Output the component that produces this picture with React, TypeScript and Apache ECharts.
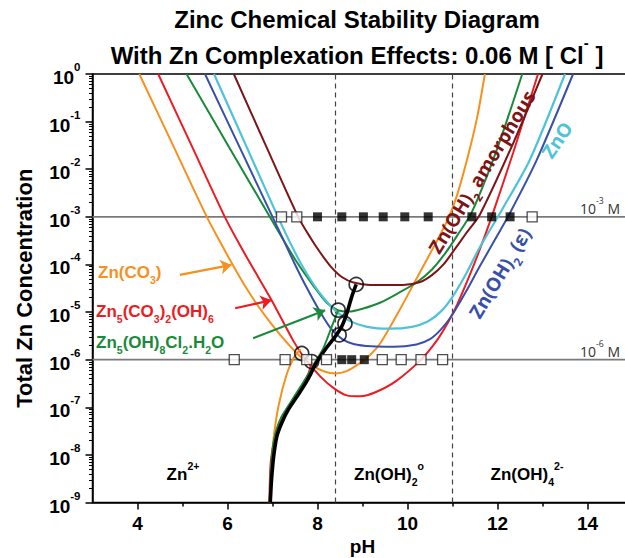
import React, { useEffect, useRef } from "react";
import * as echarts from "echarts";

const FONT = "'Liberation Sans', Arial, Helvetica, sans-serif";
const FONT2 = "'Open Sans', 'Noto Sans', sans-serif";

const ORANGE = "#F7901E";
const RED = "#EC1C24";
const GREEN = "#1A8A3A";
const BLUE = "#3850A8";
const CYAN = "#4EC3D8";
const MAROON = "#7D1416";

// tick labels
const xTickLabels = [4, 6, 8, 10, 12, 14];
const xMinorTicks = [5, 7, 9, 11, 13];
const yDecadeMin = -9;
const yDecadeMax = 0;

// curves: [pH, log10(total Zn concentration)]
const znCO3Curve: number[][] = [
  [4.04, 0], [4.79, -1.5], [5.54, -3], [5.85, -3.55], [6.1, -3.98], [6.4, -4.47], [6.7, -4.9],
  [7.0, -5.28], [7.3, -5.62], [7.6, -5.92], [7.9, -6.13], [8.15, -6.25], [8.4, -6.29],
  [8.65, -6.24], [8.9, -6.1], [9.17, -5.9], [9.4, -5.65], [9.8, -5.0], [10.2, -4.3],
  [10.6, -3.6], [10.9, -3.05], [11.1, -2.55], [11.35, -1.7], [11.55, -0.9], [11.72, 0],
];
const hydrozinciteCurve: number[][] = [
  [4.46, 0], [5.2, -1.5], [5.94, -3], [6.25, -3.55], [6.55, -4.05], [6.98, -4.75], [7.46, -5.6],
  [7.7, -5.95], [8.06, -6.35], [8.39, -6.62], [8.65, -6.75], [8.95, -6.77], [9.3, -6.68],
  [9.76, -6.44], [10.3, -6.0], [10.65, -5.6], [10.9, -5.22], [11.1, -4.85], [11.35, -4.3],
  [11.6, -3.7], [11.87, -3.0], [12.35, -1.65], [12.9, 0],
];
const simonkolleiteCurve: number[][] = [
  [5.09, 0], [6.0, -1.48], [6.94, -3], [7.2, -3.42], [7.54, -3.95], [7.91, -4.45], [8.2, -4.8],
  [8.45, -4.96], [8.7, -4.99], [9.0, -4.93], [9.4, -4.8], [9.8, -4.6], [10.2, -4.38],
  [10.55, -4.1], [10.85, -3.75], [11.1, -3.4], [11.43, -2.9], [12.0, -1.55], [12.55, 0],
];
const epsilonCurve: number[][] = [
  [5.5, 0], [6.25, -1.5], [7.0, -3], [7.25, -3.5], [7.5, -4.0], [7.75, -4.47], [8.06, -5.0],
  [8.3, -5.35], [8.55, -5.57], [8.8, -5.67], [9.2, -5.72], [9.7, -5.73], [10.2, -5.68],
  [10.5, -5.57], [10.75, -5.36], [11.0, -5.05], [11.3, -4.57], [11.6, -4.05], [11.9, -3.55],
  [12.26, -2.95], [12.87, -1.81], [13.68, 0],
];
const zincOxideCurve: number[][] = [
  [5.7, 0], [6.41, -1.5], [7.12, -3], [7.37, -3.5], [7.63, -3.98], [7.9, -4.4], [8.15, -4.72],
  [8.4, -4.97], [8.7, -5.18], [9.1, -5.31], [9.6, -5.35], [10.1, -5.31], [10.45, -5.2],
  [10.75, -4.98], [11.0, -4.68], [11.3, -4.2], [11.6, -3.65], [12.1, -2.85], [12.72, -1.8],
  [13.5, 0],
];
const amorphousCurve: number[][] = [
  [6.14, 0], [6.85, -1.5], [7.57, -3], [7.85, -3.45], [8.06, -3.75], [8.3, -4.05], [8.55, -4.27],
  [8.8, -4.38], [9.17, -4.43], [9.9, -4.43], [10.28, -4.37], [10.55, -4.22], [10.8, -4.0],
  [11.02, -3.72], [11.3, -3.35], [11.61, -2.95], [12.35, -1.45], [13.0, 0],
];

// titration paths
const blackPath: number[][] = [
  [6.95, -9], [6.98, -8.5], [7.03, -8.0], [7.1, -7.6], [7.2, -7.34], [7.35, -7.05], [7.54, -6.78],
  [7.72, -6.52], [7.85, -6.3], [7.95, -6.1], [8.2, -5.75], [8.39, -5.52], [8.54, -5.3],
  [8.65, -5.03], [8.76, -4.68], [8.86, -4.42],
];
const greenPath: number[][] = [
  [6.94, -9], [6.96, -8.4], [7.0, -7.9], [7.08, -7.5], [7.2, -7.2], [7.4, -6.9], [7.6, -6.6],
  [7.8, -6.3], [7.95, -6.05], [8.12, -5.78], [8.3, -5.35], [8.46, -4.96],
];
const redPath: number[][] = [
  [6.93, -9], [6.95, -8.3], [6.98, -8.0], [7.09, -7.48], [7.32, -7.06], [7.61, -6.64],
  [7.8, -6.29], [7.87, -6.05],
];
const orangePath: number[][] = [
  [6.94, -9], [6.96, -8.39], [7.02, -7.69], [7.13, -6.99], [7.32, -6.29], [7.48, -5.95], [7.62, -5.78],
];

const circlePoints: number[][] = [
  [7.65, -5.87], [7.87, -6.04], [8.46, -4.96], [8.61, -5.24], [8.48, -5.48], [8.86, -4.42],
];

// squares on the 1 mM and 1 uM lines (pH)
const milliOpen = [7.2, 7.54, 12.77];
const milliFilled = [8.0, 8.54, 9.02, 9.46, 9.94, 10.46, 11.43, 11.87, 12.28];
const microOpen = [6.15, 7.28, 7.76, 8.2, 9.44, 9.86, 10.3, 10.78];
const microFilled = [8.54, 8.76, 9.04];

const refLevels = [-3, -6];
const regionBoundaries = [8.4, 11];

// arrows [from, to] in [pH, logC]
const arrowOrange = [[4.94, -4.22], [6.09, -4.01]];
const arrowRed = [[6.17, -4.92], [6.98, -4.75]];
const arrowGreen = [[6.57, -5.55], [8.17, -4.96]];

const toC = (pts: number[][]) => pts.map(([p, l]) => [p, Math.pow(10, l)]);

function richStyles(size: number, color: string, weight: string = "bold", family: string = FONT) {
  return {
    b: { fontSize: size, fontWeight: weight, fill: color, color, fontFamily: family, lineHeight: size * 1.6, verticalAlign: "middle" },
    sup: { fontSize: size * 0.62, fontWeight: weight, fill: color, color, fontFamily: family, lineHeight: size * 0.75, verticalAlign: "top" },
    sub: { fontSize: size * 0.62, fontWeight: weight, fill: color, color, fontFamily: family, lineHeight: size * 0.75, verticalAlign: "bottom" },
  };
}

function gText(text: string, x: number, y: number, size: number, color: string, opts: any = {}) {
  const align = opts.align || "left";
  return {
    type: "text",
    x,
    y,
    rotation: opts.rotation || 0,
    z: 100,
    style: {
      text,
      rich: richStyles(size, color, opts.weight || "bold", opts.family || FONT),
      fill: color,
      fontSize: size,
      fontWeight: opts.weight || "bold",
      fontFamily: opts.family || FONT,
      align,
      textAlign: align,
      verticalAlign: "middle",
      textVerticalAlign: "middle",
    },
  };
}

export default function App() {
  const ref = useRef<HTMLDivElement>(null);
  useEffect(() => {
    if (!ref.current) return;
    const chart = echarts.init(ref.current, null, { renderer: "svg" });

    const yMinor: number[] = [];
    for (let n = yDecadeMin; n < yDecadeMax; n++) {
      for (let k = 2; k <= 9; k++) yMinor.push(n + Math.log10(k));
    }

    const curve = (data: number[][], color: string, width = 2) => ({
      type: "line",
      data: toC(data),
      showSymbol: false,
      smooth: 0.25,
      lineStyle: { color, width },
      itemStyle: { color },
      z: 3,
      silent: true,
    });

    const arrow = (coords: number[][], color: string) => ({
      type: "lines",
      coordinateSystem: "cartesian2d",
      symbol: ["none", "arrow"],
      symbolSize: 11,
      lineStyle: { color, width: 2.2, opacity: 1 },
      data: [{ coords: toC(coords) }],
      z: 6,
      silent: true,
    });

    const hLines = refLevels.map((l) => ({
      type: "line",
      data: [[3, Math.pow(10, l)], [15, Math.pow(10, l)]],
      showSymbol: false,
      lineStyle: { color: "#7a7a7a", width: 1.6 },
      z: 1,
      silent: true,
    }));
    const vLines = regionBoundaries.map((p) => ({
      type: "line",
      data: [[p, 1e-9], [p, 1]],
      showSymbol: false,
      lineStyle: { color: "#444", width: 1.2, type: [5, 4] },
      z: 1,
      silent: true,
    }));

    const squares = (xs: number[], level: number, filled: boolean) => ({
      type: "scatter",
      data: xs.map((p) => [p, Math.pow(10, level)]),
      symbol: "rect",
      symbolSize: filled ? 9 : 10,
      itemStyle: filled
        ? { color: "#000" }
        : { color: "#fff", borderColor: "#222", borderWidth: 1.3 },
      z: 8,
      silent: true,
    });

    const option: any = {
      animation: false,
      backgroundColor: "#fff",
      grid: {
        left: 92.5,
        right: -7.5,
        top: 74,
        bottom: 55.5,
        show: true,
        borderColor: "#000",
        borderWidth: 1.5,
        backgroundColor: "transparent",
        containLabel: false,
        outerBoundsMode: "none",
      },
      xAxis: [
        {
          type: "value",
          min: 3,
          max: 15,
          position: "bottom",
          axisLine: { show: true, onZero: false, lineStyle: { color: "#000", width: 1.5 } },
          axisTick: { show: true, customValues: xTickLabels, length: 7, lineStyle: { color: "#000", width: 1.5 } },
          axisLabel: {
            customValues: xTickLabels,
            fontSize: 19,
            fontWeight: "bold",
            color: "#000",
            fontFamily: FONT,
            margin: 11,
          },
          splitLine: { show: false },
          name: "pH",
          nameLocation: "middle",
          nameGap: 34,
          nameTextStyle: { fontSize: 19, fontWeight: "bold", color: "#000", fontFamily: FONT },
        },
        {
          type: "value",
          min: 3,
          max: 15,
          position: "top",
          offset: -428.5,
          axisLine: { show: false },
          axisTick: { show: true, inside: true, customValues: xMinorTicks, length: 4, lineStyle: { color: "#000", width: 1.5 } },
          axisLabel: { show: false, customValues: xMinorTicks },
          splitLine: { show: false },
        },
      ],
      yAxis: [
        {
          type: "log",
          logBase: 10,
          min: 1e-9,
          max: 1,
          interval: 1,
          splitNumber: 9,
          position: "left",
          axisLine: { show: true, onZero: false, lineStyle: { color: "#000", width: 1.5 } },
          axisTick: { show: true, length: 7, lineStyle: { color: "#000", width: 1.5 } },
          axisLabel: {
            margin: 12,
            formatter: (v: number) => `{b|10}{s|${Math.round(Math.log10(v))}}`,
            rich: {
              b: { fontSize: 19, fontWeight: "bold", color: "#000", fontFamily: FONT, lineHeight: 26, verticalAlign: "bottom" },
              s: { fontSize: 11.5, fontWeight: "bold", color: "#000", fontFamily: FONT, lineHeight: 14, verticalAlign: "top" },
            },
          },
          splitLine: { show: false },
          name: "Total Zn Concentration",
          nameLocation: "middle",
          nameGap: 57,
          nameRotate: 90,
          nameTextStyle: { fontSize: 22, fontWeight: "bold", color: "#000", fontFamily: FONT },
        },
        {
          type: "value",
          min: yDecadeMin,
          max: yDecadeMax,
          position: "right",
          offset: -540,
          axisLine: { show: false },
          axisTick: { show: true, inside: true, customValues: yMinor, length: 3.5, lineStyle: { color: "#000", width: 1 } },
          axisLabel: { show: false, customValues: yMinor },
          splitLine: { show: false },
        },
      ],
      series: [
        ...hLines,
        ...vLines,
        curve(znCO3Curve, ORANGE),
        curve(hydrozinciteCurve, RED),
        curve(simonkolleiteCurve, GREEN),
        curve(epsilonCurve, BLUE),
        curve(zincOxideCurve, CYAN, 2.2),
        curve(amorphousCurve, MAROON),
        curve(orangePath, ORANGE),
        curve(redPath, RED),
        curve(greenPath, GREEN),
        { ...curve(blackPath, "#000", 3.6), z: 5 },
        {
          type: "scatter",
          data: toC(circlePoints),
          symbol: "circle",
          symbolSize: 14,
          itemStyle: { color: "rgba(0,0,0,0)", borderColor: "#000", borderWidth: 1.7 },
          z: 7,
          silent: true,
        },
        squares(milliOpen, -3, false),
        squares(milliFilled, -3, true),
        squares(microOpen, -6, false),
        squares(microFilled, -6, true),
        arrow(arrowOrange, ORANGE),
        arrow(arrowRed, RED),
        arrow(arrowGreen, GREEN),
      ],
      graphic: [
        gText("{b|Zinc Chemical Stability Diagram}", 357, 19, 24, "#000", { align: "center" }),
        gText("{b|With Zn Complexation Effects: 0.06 M [ Cl}{sup|-}{b| ]}", 357, 55, 24, "#000", { align: "center" }),
        gText("{b|10}{sup|-3}{b| M}", 620, 208, 14, "#333", { align: "right", weight: "normal", family: FONT2 }),
        gText("{b|10}{sup|-6}{b| M}", 620, 351, 14, "#333", { align: "right", weight: "normal", family: FONT2 }),
        gText("{b|Zn}{sup|2+}", 183, 474, 17, "#000", { align: "center" }),
        gText("{b|Zn(OH)}{sub|2}{sup|o}", 389, 474, 17, "#000", { align: "center" }),
        gText("{b|Zn(OH)}{sub|4}{sup|2-}", 527, 474, 17, "#000", { align: "center" }),
        gText("{b|Zn(CO}{sub|3}{b|)}", 98, 272, 17, ORANGE),
        gText("{b|Zn}{sub|5}{b|(CO}{sub|3}{b|)}{sub|2}{b|(OH)}{sub|6}", 96, 311, 17, RED),
        gText("{b|Zn}{sub|5}{b|(OH)}{sub|8}{b|Cl}{sub|2}{b|.H}{sub|2}{b|O}", 96, 342, 17, GREEN),
        gText("{b|ZnO}", 557, 140, 19, CYAN, { align: "center", rotation: (56 * Math.PI) / 180, family: FONT2 }),
        gText("{b|Zn(OH)}{sub|2}{b| (ε)}", 500, 273, 19, BLUE, { align: "center", rotation: (59 * Math.PI) / 180, family: FONT2 }),
        gText("{b|Zn(OH)}{sub|2}{b| amorphous}", 482, 172, 19, MAROON, { align: "center", rotation: (58.6 * Math.PI) / 180, family: FONT2 }),
      ],
    };

    chart.setOption(option);
    return () => chart.dispose();
  }, []);

  return <div ref={ref} style={{ position: "absolute", left: 0, top: 0, width: 625, height: 558 }} />;
}
